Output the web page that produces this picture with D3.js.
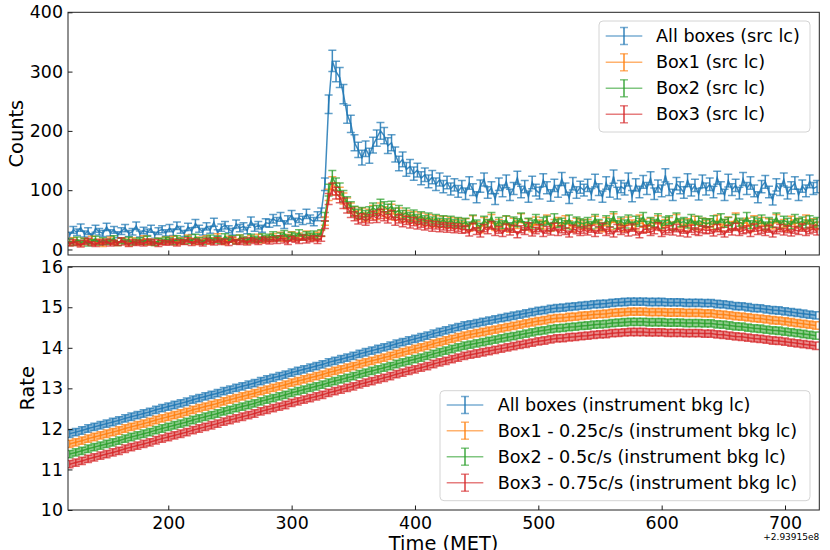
<!DOCTYPE html>
<html>
<head>
<meta charset="utf-8">
<script src="https://cdn.jsdelivr.net/npm/d3@7"></script>
<style>
body { margin: 0; background: #fff; }
text { font-family: "DejaVu Sans", sans-serif; fill: #000; }
</style>
</head>
<body>
<div id="chart"></div>
<script>
// ---- data ----
// source light curves: 3 s bins starting at t = 120 (MET - 2.93915e8)
var srcStart = 120, srcStep = 3;
var srcAll = [
  24,33,29,37,26,31,22,35,30,27,38,28,33,25,31,36,27,30,40,26,32,29,35,24,31,34,28,
  36,29,40,33,27,38,31,44,35,30,39,33,46,28,37,41,34,30,43,36,39,32,48,37,41,35,45,
  44,52,47,55,42,50,58,46,53,49,60,51,47,56,62,
  110,245,318,300,290,262,228,212,180,168,155,170,158,176,188,200,192,175,180,160,
  145,152,135,140,128,134,120,126,115,122,110,118,106,113,102,109,98,106,
  94,112,101,88,107,118,96,104,85,110,99,115,92,103,121,97,106,89,113,100,95,117,104,91,108,98,119,102,87,111,96,105,100,
  108,93,116,101,89,112,98,123,95,106,102,118,90,109,97,114,103,120,94,107,99,125,101,92,111,104,96,117,100,108,93,115,102,
  110,97,121,104,92,116,101,108,95,119,103,112,99,88,106,114,97,84,109,101,118,95,104,112,92,107,99,115,103,106
];
var srcBox1 = [
  10,16,12,9,15,13,18,11,14,8,13,17,12,10,15,14,9,16,12,13,19,11,14,10,15,12,17,
  14,18,11,16,13,20,15,12,17,14,19,13,16,22,15,12,18,16,14,20,17,13,19,16,21,15,18,
  17,22,19,24,18,21,25,19,23,20,26,22,19,24,27,
  48,92,112,102,95,86,78,70,64,58,62,55,60,66,58,70,64,60,68,57,
  62,54,58,52,56,49,54,47,52,45,50,44,49,43,47,42,46,41,
  45,37,50,41,34,47,43,52,38,44,40,49,35,46,42,53,39,45,36,48,43,41,51,37,44,47,39,50,42,36,46,43,40,
  44,38,49,42,36,47,40,53,41,45,37,48,43,39,51,44,35,46,42,50,38,44,47,40,52,43,37,45,41,49,39,46,42,
  45,40,51,37,44,48,41,54,39,43,46,36,50,42,47,38,45,41,52,40,44,37,49,43,46,39,51,42,45,40
];
var srcBox2 = [
  14,10,17,12,15,9,13,18,11,16,12,14,19,10,15,13,17,11,14,16,12,18,13,10,15,14,17,
  16,12,19,15,13,18,14,21,16,12,17,20,15,18,14,22,16,19,13,20,17,15,21,18,16,22,19,
  21,25,19,23,27,20,24,22,28,21,25,23,26,22,28,
  55,100,122,110,102,90,80,72,65,60,63,58,64,70,66,76,72,68,73,62,
  66,58,62,55,59,52,56,50,54,48,52,46,50,45,49,44,47,43,
  46,40,51,43,38,49,44,55,41,47,42,50,39,48,45,54,40,46,43,52,41,47,49,38,53,44,46,42,51,40,48,45,43,
  47,41,52,44,39,50,45,56,42,48,43,51,40,49,46,55,41,47,44,53,42,48,50,39,54,45,47,43,52,41,49,46,44,
  45,50,41,53,44,47,39,52,46,43,55,42,48,45,51,40,47,44,54,42,49,46,41,52,45,48,43,50,44,47
];
var srcBox3 = [
  9,13,10,7,12,15,10,8,13,11,14,9,12,10,16,11,8,13,10,12,9,14,11,13,8,12,11,
  11,14,9,13,12,16,10,14,12,9,15,13,11,16,12,14,10,17,13,12,15,11,16,14,12,17,15,
  13,17,14,19,15,12,18,16,14,20,15,17,19,14,18,
  42,85,102,95,88,78,70,62,56,50,53,48,52,57,53,60,56,52,58,48,
  52,45,49,43,47,41,44,39,42,37,41,36,39,35,38,34,37,33,
  34,28,38,31,26,36,32,41,29,33,27,37,30,35,25,34,31,39,28,32,36,27,33,30,38,29,34,31,26,35,32,29,33,
  30,35,27,33,38,29,32,26,36,31,34,28,37,30,25,33,35,29,32,39,27,31,34,30,36,28,33,26,35,31,29,34,32,
  33,28,36,31,26,35,30,38,29,32,34,27,37,31,33,29,35,26,32,36,30,34,28,33,31,37,29,32,35,30
];
var srcLabels = ["All boxes (src lc)", "Box1 (src lc)", "Box2 (src lc)", "Box3 (src lc)"];

// instrument background rate: 5 s samples from t = 120, same for every box
var bkgStart = 120, bkgStep = 5;
var bkgRate = [
  11.88,11.92,11.96,12.01,12.05,12.09,12.13,12.17,12.21,12.26,
  12.30,12.34,12.38,12.42,12.47,12.51,12.55,12.59,12.63,12.67,
  12.72,12.76,12.80,12.84,12.88,12.93,12.97,13.01,13.05,13.09,
  13.13,13.18,13.22,13.26,13.30,13.34,13.39,13.43,13.47,13.51,
  13.55,13.59,13.64,13.68,13.72,13.76,13.80,13.85,13.89,13.93,
  13.97,14.01,14.05,14.10,14.14,14.18,14.22,14.26,14.30,14.35,
  14.39,14.43,14.47,14.51,14.55,
  14.58,14.61,14.64,14.67,14.70,14.73,14.76,14.79,14.82,14.85,14.88,14.91,14.93,14.96,
  14.98,14.99,15.01,15.02,15.04,15.05,15.07,15.08,15.09,15.11,15.12,15.13,15.14,
  15.14,15.14,15.13,15.13,15.13,15.12,15.12,15.12,15.11,15.11,15.11,15.10,15.10,
  15.08,15.07,15.05,15.03,15.02,15.00,14.98,14.97,14.95,14.93,14.92,14.90,
  14.88,14.86,14.84,14.82,14.80
];
var bkgErr = 0.09;
var bkgOffsets = [0, 0.25, 0.5, 0.75]; // shifts named in the legend
var bkgLabels = ["All boxes (instrument bkg lc)", "Box1 - 0.25c/s (instrument bkg lc)",
  "Box2 - 0.5c/s (instrument bkg lc)", "Box3 - 0.75c/s (instrument bkg lc)"];

var colors = ["#1f77b4", "#ff7f0e", "#2ca02c", "#d62728"];
var xTicks = [200, 300, 400, 500, 600, 700];
var countTicks = [0, 100, 200, 300, 400];
var rateTicks = [10, 11, 12, 13, 14, 15, 16];

// ---- layout ----
var W = 830, H = 550;
var left = 68, right = 819.3;
var topPanel = {y0: 12.3, y1: 255};
var botPanel = {y0: 266.7, y1: 510};
var capHalf = 4, barAlpha = 0.85, capAlpha = 0.7;

var svg = d3.select("#chart").append("svg").attr("width", W).attr("height", H);

var x = d3.scaleLinear().domain([118.7, 727.8]).range([left, right]);
var yTop = d3.scaleLinear().domain([-9.3, 400]).range([topPanel.y1, topPanel.y0]);
var yBot = d3.scaleLinear().domain([10, 16]).range([botPanel.y1, botPanel.y0]);

svg.append("clipPath").attr("id", "clipTop").append("rect")
  .attr("x", left).attr("y", topPanel.y0).attr("width", right - left).attr("height", topPanel.y1 - topPanel.y0);
svg.append("clipPath").attr("id", "clipBot").append("rect")
  .attr("x", left).attr("y", botPanel.y0).attr("width", right - left).attr("height", botPanel.y1 - botPanel.y0);

// draw one errorbar series like matplotlib: connecting line, vertical bars, caps
var drawErrorbar = function(g, pts, yS, color, band) {
  var s = g.append("g");
  if (band) {
    // dense error bars read as a solid band
    s.append("path")
      .attr("d", d3.area().x(function(d) { return x(d.t); })
        .y0(function(d) { return yS(d.v - d.e); }).y1(function(d) { return yS(d.v + d.e); })(pts))
      .attr("fill", color).attr("fill-opacity", 0.55);
  }
  s.append("path")
    .attr("d", d3.line().x(function(d) { return x(d.t); }).y(function(d) { return yS(d.v); })(pts))
    .attr("fill", "none").attr("stroke", color).attr("stroke-width", 1.5).attr("stroke-opacity", barAlpha);
  s.selectAll("line.bar").data(pts).enter().append("line").attr("class", "bar")
    .attr("x1", function(d) { return x(d.t); }).attr("x2", function(d) { return x(d.t); })
    .attr("y1", function(d) { return yS(d.v - d.e); }).attr("y2", function(d) { return yS(d.v + d.e); })
    .attr("stroke", color).attr("stroke-width", 1.5).attr("stroke-opacity", barAlpha);
  [-1, 1].forEach(function(sign) {
    s.selectAll("line.cap" + (sign + 1)).data(pts).enter().append("line").attr("class", "cap" + (sign + 1))
      .attr("x1", function(d) { return x(d.t) - capHalf; }).attr("x2", function(d) { return x(d.t) + capHalf; })
      .attr("y1", function(d) { return yS(d.v + sign * d.e); }).attr("y2", function(d) { return yS(d.v + sign * d.e); })
      .attr("stroke", color).attr("stroke-width", 1.5).attr("stroke-opacity", capAlpha);
  });
};

// top panel: counts with poisson errors
var gTop = svg.append("g").attr("clip-path", "url(#clipTop)");
[srcAll, srcBox1, srcBox2, srcBox3].forEach(function(vals, k) {
  var pts = vals.map(function(v, i) { return {t: srcStart + i * srcStep, v: v, e: Math.sqrt(v)}; });
  drawErrorbar(gTop, pts, yTop, colors[k], false);
});

// bottom panel: instrument background, shifted per box
var gBot = svg.append("g").attr("clip-path", "url(#clipBot)");
bkgOffsets.forEach(function(off, k) {
  var pts = bkgRate.map(function(v, i) { return {t: bkgStart + i * bkgStep, v: v - off, e: bkgErr}; });
  drawErrorbar(gBot, pts, yBot, colors[k], true);
});

// axes with inward ticks
var styleAxis = function(g) {
  g.select(".domain").remove();
  g.selectAll(".tick line").attr("stroke", "#000").attr("stroke-width", 0.9);
  g.selectAll(".tick text").style("font-family", "DejaVu Sans").attr("font-size", 17.4).attr("fill", "#000");
};

svg.append("g").attr("transform", "translate(" + left + ",0)")
  .call(d3.axisLeft(yTop).tickValues(countTicks).tickFormat(d3.format("d"))
    .tickSizeInner(-4.5).tickSizeOuter(0).tickPadding(5))
  .call(styleAxis);
svg.append("g").attr("transform", "translate(0," + topPanel.y1 + ")")
  .call(d3.axisBottom(x).tickValues(xTicks).tickSizeInner(-4.5).tickSizeOuter(0).tickFormat(""))
  .call(styleAxis);
svg.append("g").attr("transform", "translate(" + left + ",0)")
  .call(d3.axisLeft(yBot).tickValues(rateTicks).tickFormat(d3.format("d"))
    .tickSizeInner(-4.5).tickSizeOuter(0).tickPadding(5))
  .call(styleAxis);
svg.append("g").attr("transform", "translate(0," + botPanel.y1 + ")")
  .call(d3.axisBottom(x).tickValues(xTicks).tickFormat(d3.format("d"))
    .tickSizeInner(-4.5).tickSizeOuter(0).tickPadding(6.5))
  .call(styleAxis);

// frames
[topPanel, botPanel].forEach(function(p) {
  svg.append("rect").attr("x", left).attr("y", p.y0).attr("width", right - left).attr("height", p.y1 - p.y0)
    .attr("fill", "none").attr("stroke", "#222").attr("stroke-width", 1);
});

// axis labels
svg.append("text").attr("transform", "translate(23," + ((topPanel.y0 + topPanel.y1) / 2) + ") rotate(-90)")
  .attr("text-anchor", "middle").attr("font-size", 19.4).text("Counts");
svg.append("text").attr("transform", "translate(34," + ((botPanel.y0 + botPanel.y1) / 2) + ") rotate(-90)")
  .attr("text-anchor", "middle").attr("font-size", 19.4).text("Rate");
svg.append("text").attr("x", (left + right) / 2).attr("y", 550)
  .attr("text-anchor", "middle").attr("font-size", 19.4).text("Time (MET)");
svg.append("text").attr("x", right).attr("y", 540)
  .attr("text-anchor", "end").attr("font-size", 9).text("+2.93915e8");

// legends
var drawLegend = function(box, labels) {
  var g = svg.append("g");
  g.append("rect").attr("x", box.x0).attr("y", box.y0).attr("width", box.x1 - box.x0).attr("height", box.y1 - box.y0)
    .attr("rx", 4).attr("fill", "#fff").attr("fill-opacity", 0.8).attr("stroke", "#d4d4d4").attr("stroke-width", 1);
  labels.forEach(function(lab, k) {
    var cy = box.rows[k], cx = (box.h0 + box.h1) / 2;
    var row = g.append("g").attr("stroke", colors[k]).attr("stroke-width", 1.5);
    row.append("line").attr("x1", box.h0).attr("x2", box.h1).attr("y1", cy).attr("y2", cy).attr("stroke-opacity", 0.6);
    row.append("line").attr("x1", cx).attr("x2", cx).attr("y1", cy - 8.5).attr("y2", cy + 8.5).attr("stroke-opacity", 0.9);
    row.append("line").attr("x1", cx - capHalf).attr("x2", cx + capHalf).attr("y1", cy - 8.5).attr("y2", cy - 8.5).attr("stroke-opacity", 0.6);
    row.append("line").attr("x1", cx - capHalf).attr("x2", cx + capHalf).attr("y1", cy + 8.5).attr("y2", cy + 8.5).attr("stroke-opacity", 0.6);
    g.append("text").attr("x", box.tx).attr("y", cy).attr("dy", "0.35em").attr("font-size", 17.6).text(lab);
  });
};
drawLegend({x0: 599, x1: 810, y0: 21, y1: 132, h0: 605.7, h1: 642.3, tx: 656,
  rows: [36, 62.3, 88.3, 114.3]}, srcLabels);
drawLegend({x0: 440, x1: 810, y0: 390.7, y1: 500.7, h0: 446.7, h1: 483.3, tx: 497.7,
  rows: [405, 430.7, 456.7, 482.7]}, bkgLabels);
</script>
</body>
</html>
